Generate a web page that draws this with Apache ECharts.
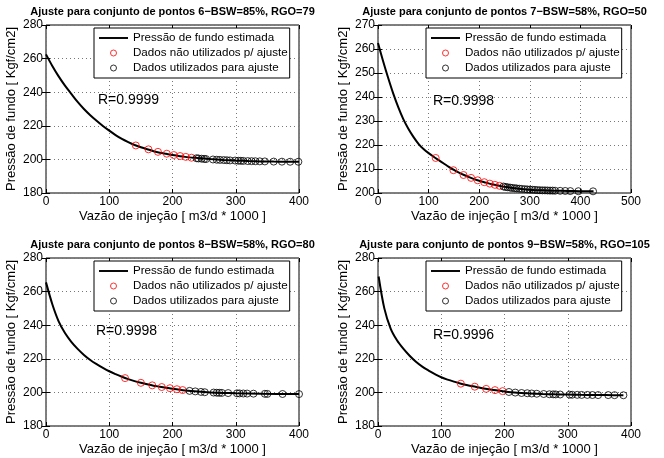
<!DOCTYPE html>
<html>
<head>
<meta charset="utf-8">
<script src="https://cdn.jsdelivr.net/npm/echarts@6/dist/echarts.min.js"></script>
<style>
  html, body { margin: 0; padding: 0; background: #fff; }
  #chart { width: 664px; height: 458px; }
</style>
</head>
<body>
<div id="chart"></div>
<script>
// textos
var titles = [
  'Ajuste para conjunto de pontos 6\u2212BSW=85%, RGO=79',
  'Ajuste para conjunto de pontos 7\u2212BSW=58%, RGO=50',
  'Ajuste para conjunto de pontos 8\u2212BSW=58%, RGO=80',
  'Ajuste para conjunto de pontos 9\u2212BSW=58%, RGO=105'
];
var rTexts = ['R=0.9999', 'R=0.9998', 'R=0.9998', 'R=0.9996'];
var nameCurve = 'Pressão de fundo estimada';
var nameRed = 'Dados não utilizados p/ ajuste';
var nameBlack = 'Dados utilizados para ajuste';

// eixos
var xMax = [400, 500, 400, 400];
var yMin = [180, 200, 180, 180];
var yMax = [280, 270, 280, 280];
var yStep = [20, 10, 20, 20];

// conjunto 6
var curveX6 = [0, 10, 20, 30, 40, 50, 60, 70, 80, 90, 100, 110, 120, 130, 140, 150, 160, 170, 180, 190, 200, 220, 240, 260, 280, 300, 320, 340, 360, 380, 400];
var curveY6 = [262.5, 255.6, 249.4, 243.9, 239, 234.2, 230, 226.3, 223, 219.9, 217.1, 214.5, 212.2, 210.3, 208.6, 207.2, 206.0, 204.9, 204.0, 203.3, 202.6, 201.5, 200.8, 200.2, 199.7, 199.3, 199.0, 198.8, 198.7, 198.65, 198.6];
var redX6 = [142, 162, 177, 191, 202, 212, 221, 230];
var redY6 = [208.3, 206.0, 204.5, 203.4, 202.6, 202.0, 201.5, 201.0];
var blackX6 = [238, 241, 246, 250, 253, 264, 270, 275, 281, 286, 291, 299, 304, 308, 312, 319, 325, 331, 338, 346, 360, 373, 386, 399];
var blackY6 = [200.7, 200.55, 200.4, 200.3, 200.2, 199.95, 199.8, 199.7, 199.6, 199.5, 199.4, 199.3, 199.2, 199.15, 199.1, 199.0, 198.95, 198.9, 198.85, 198.8, 198.7, 198.65, 198.6, 198.6];

// conjunto 7
var curveX7 = [0, 10, 20, 30, 40, 50, 60, 70, 80, 90, 100, 110, 120, 130, 140, 150, 160, 170, 180, 190, 200, 210, 220, 230, 240, 250, 275, 300, 325, 350, 375, 400, 426];
var curveY7 = [262.5, 255, 248, 241.5, 235.8, 230.8, 226.8, 223.4, 220.5, 218.3, 216.6, 215.1, 213.7, 212.3, 210.9, 209.6, 208.5, 207.5, 206.6, 205.8, 205.1, 204.5, 203.9, 203.4, 203.0, 202.6, 201.9, 201.4, 201.1, 200.95, 200.85, 200.75, 200.7];
var redX7 = [114, 149, 169, 184, 197, 210, 221, 231, 240];
var redY7 = [214.6, 209.5, 207.5, 206.3, 205.3, 204.5, 203.9, 203.4, 203.0];
var blackX7 = [248, 252, 256, 261, 265, 270, 274, 279, 284, 290, 295, 300, 305, 310, 315, 320, 325, 330, 335, 340, 345, 350, 360, 370, 380, 396, 425];
var blackY7 = [202.7, 202.5, 202.4, 202.25, 202.1, 202.0, 201.9, 201.8, 201.7, 201.6, 201.5, 201.4, 201.35, 201.3, 201.2, 201.15, 201.1, 201.1, 201.05, 201.0, 201.0, 200.95, 200.9, 200.85, 200.8, 200.75, 200.7];

// conjunto 8
var curveX8 = [0, 10, 20, 30, 40, 50, 60, 70, 80, 90, 100, 110, 120, 130, 140, 150, 160, 170, 180, 190, 200, 220, 240, 260, 280, 300, 340, 400];
var curveY8 = [265.5, 252.5, 242.3, 235.3, 230.1, 225.9, 222.3, 219.3, 216.8, 214.6, 212.6, 210.9, 209.3, 207.9, 206.7, 205.7, 204.8, 204.0, 203.4, 202.8, 202.2, 201.2, 200.5, 200.0, 199.7, 199.5, 199.2, 199.0];
var redX8 = [125, 150, 168, 183, 196, 207, 216];
var redY8 = [208.5, 205.7, 204.2, 203.2, 202.5, 201.9, 201.4];
var blackX8 = [227, 236, 245, 251, 265, 270, 274, 278, 288, 302, 306, 312, 318, 328, 346, 350, 374, 400];
var blackY8 = [200.9, 200.6, 200.3, 200.1, 199.9, 199.8, 199.75, 199.7, 199.6, 199.45, 199.4, 199.35, 199.3, 199.25, 199.15, 199.1, 199.05, 199.0];

// conjunto 9
var curveX9 = [1, 10, 20, 30, 40, 50, 60, 70, 80, 90, 100, 110, 120, 130, 140, 150, 160, 170, 180, 190, 200, 210, 220, 240, 260, 280, 300, 320, 340, 360, 388];
var curveY9 = [269, 250, 238, 231, 226, 221.8, 218.2, 215.3, 213, 210.9, 209.0, 207.6, 206.4, 205.3, 204.4, 203.6, 202.9, 202.2, 201.6, 201.1, 200.6, 200.15, 199.8, 199.4, 199.05, 198.85, 198.7, 198.55, 198.45, 198.4, 198.3];
var redX9 = [131, 153, 171, 185, 197];
var redY9 = [205.2, 203.4, 202.1, 201.35, 200.75];
var blackX9 = [207, 217, 227, 236, 243, 251, 262, 271, 277, 281, 288, 303, 307, 315, 322, 331, 339, 348, 364, 374, 388];
var blackY9 = [200.25, 199.9, 199.65, 199.5, 199.35, 199.2, 199.05, 198.9, 198.85, 198.8, 198.75, 198.65, 198.6, 198.55, 198.5, 198.5, 198.45, 198.4, 198.4, 198.35, 198.3];

var sets = [
  [curveX6, curveY6, redX6, redY6, blackX6, blackY6],
  [curveX7, curveY7, redX7, redY7, blackX7, blackY7],
  [curveX8, curveY8, redX8, redY8, blackX8, blackY8],
  [curveX9, curveY9, redX9, redY9, blackX9, blackY9]
];

function pairs(xs, ys) {
  return xs.map(function (x, i) { return [x, ys[i]]; });
}

var font = '"Liberation Sans", Arial, Helvetica, sans-serif';
var boxes = [
  { left: 46, top: 25 },
  { left: 378, top: 25 },
  { left: 46, top: 258 },
  { left: 378, top: 258 }
];
var W = 253, H = 168;

var grid = [], xAxis = [], yAxis = [], xTop = [], yRight = [], series = [], legend = [], graphic = [];
var dots = { type: [1, 3], color: '#777', width: 1 };
var tick = { inside: true, length: 4, lineStyle: { color: '#000' } };

boxes.forEach(function (b, i) {
  grid.push({ left: b.left, top: b.top, width: W, height: H, show: true,
    borderColor: '#000', borderWidth: 1, backgroundColor: '#fff' });
  xAxis.push({
    type: 'value', gridIndex: i, min: 0, max: xMax[i], interval: 100,
    name: 'Vazão de injeção [ m3/d * 1000 ]', nameLocation: 'middle', nameGap: 17,
    nameTextStyle: { fontFamily: font, fontSize: 13, color: '#000' },
    axisLine: { show: false }, axisTick: tick,
    axisLabel: { margin: 3, fontFamily: font, fontSize: 12, color: '#000' },
    splitLine: { show: true, lineStyle: dots }
  });
  yAxis.push({
    type: 'value', gridIndex: i, min: yMin[i], max: yMax[i], interval: yStep[i],
    name: 'Pressão de fundo [ Kgf/cm2]', nameLocation: 'middle', nameGap: 28,
    nameTextStyle: { fontFamily: font, fontSize: 13, color: '#000' },
    axisLine: { show: false }, axisTick: tick,
    axisLabel: { margin: 3, fontFamily: font, fontSize: 12, color: '#000' },
    splitLine: { show: true, lineStyle: dots }
  });
  // marcas do lado de cima e da direita
  xTop.push({
    type: 'value', gridIndex: i, position: 'top', min: 0, max: xMax[i], interval: 100,
    axisLine: { show: false }, axisTick: tick, axisLabel: { show: false }, splitLine: { show: false }
  });
  yRight.push({
    type: 'value', gridIndex: i, position: 'right', min: yMin[i], max: yMax[i], interval: yStep[i],
    axisLine: { show: false }, axisTick: tick, axisLabel: { show: false }, splitLine: { show: false }
  });

  var s = sets[i];
  series.push({
    name: nameCurve, type: 'line', xAxisIndex: i, yAxisIndex: i,
    data: pairs(s[0], s[1]), smooth: 0.3, symbol: 'none', showSymbol: false,
    lineStyle: { color: '#000', width: 2 }, itemStyle: { color: '#000' }, z: 2
  });
  series.push({
    name: nameRed, type: 'scatter', xAxisIndex: i, yAxisIndex: i,
    data: pairs(s[2], s[3]), symbol: 'circle', symbolSize: 7,
    itemStyle: { color: 'rgba(0,0,0,0)', borderColor: '#ff0000', borderWidth: 1 }, z: 3
  });
  series.push({
    name: nameBlack, type: 'scatter', xAxisIndex: i, yAxisIndex: i,
    data: pairs(s[4], s[5]), symbol: 'circle', symbolSize: 7,
    itemStyle: { color: 'rgba(0,0,0,0)', borderColor: '#000', borderWidth: 1 }, z: 3
  });

  legend.push({
    orient: 'vertical', left: b.left + 48, top: b.top + 3,
    backgroundColor: '#fff', borderColor: '#000', borderWidth: 1,
    padding: [3, 2, 3, 5], itemGap: 1, itemWidth: 29, itemHeight: 6,
    selectedMode: false,
    textStyle: { fontFamily: font, fontSize: 11.6, color: '#000', lineHeight: 14 },
    data: [
      { name: nameCurve, icon: 'path://M0,0L30,0L30,2L0,2Z', itemStyle: { color: '#000', borderWidth: 0 } },
      { name: nameRed, icon: 'circle', itemStyle: { color: 'rgba(0,0,0,0)', borderColor: '#ff0000', borderWidth: 1 } },
      { name: nameBlack, icon: 'circle', itemStyle: { color: 'rgba(0,0,0,0)', borderColor: '#000', borderWidth: 1 } }
    ]
  });

  graphic.push({
    type: 'text', x: b.left + W / 2, y: b.top - 13,
    style: { text: titles[i], fontFamily: font, fontSize: 11, fontWeight: 'bold',
      fill: '#000', align: 'center', verticalAlign: 'middle' }
  });
});

var rPos = [[98, 100], [433, 101], [96, 331], [433, 335]];
rPos.forEach(function (p, i) {
  graphic.push({
    type: 'text', x: p[0], y: p[1], z: 10,
    style: { text: rTexts[i], fontFamily: font, fontSize: 14, fill: '#000',
      align: 'left', verticalAlign: 'middle' }
  });
});

var chart = echarts.init(document.getElementById('chart'));
chart.setOption({
  animation: false,
  backgroundColor: '#fff',
  grid: grid,
  xAxis: xAxis.concat(xTop),
  yAxis: yAxis.concat(yRight),
  legend: legend,
  graphic: graphic,
  series: series
});
</script>
</body>
</html>
